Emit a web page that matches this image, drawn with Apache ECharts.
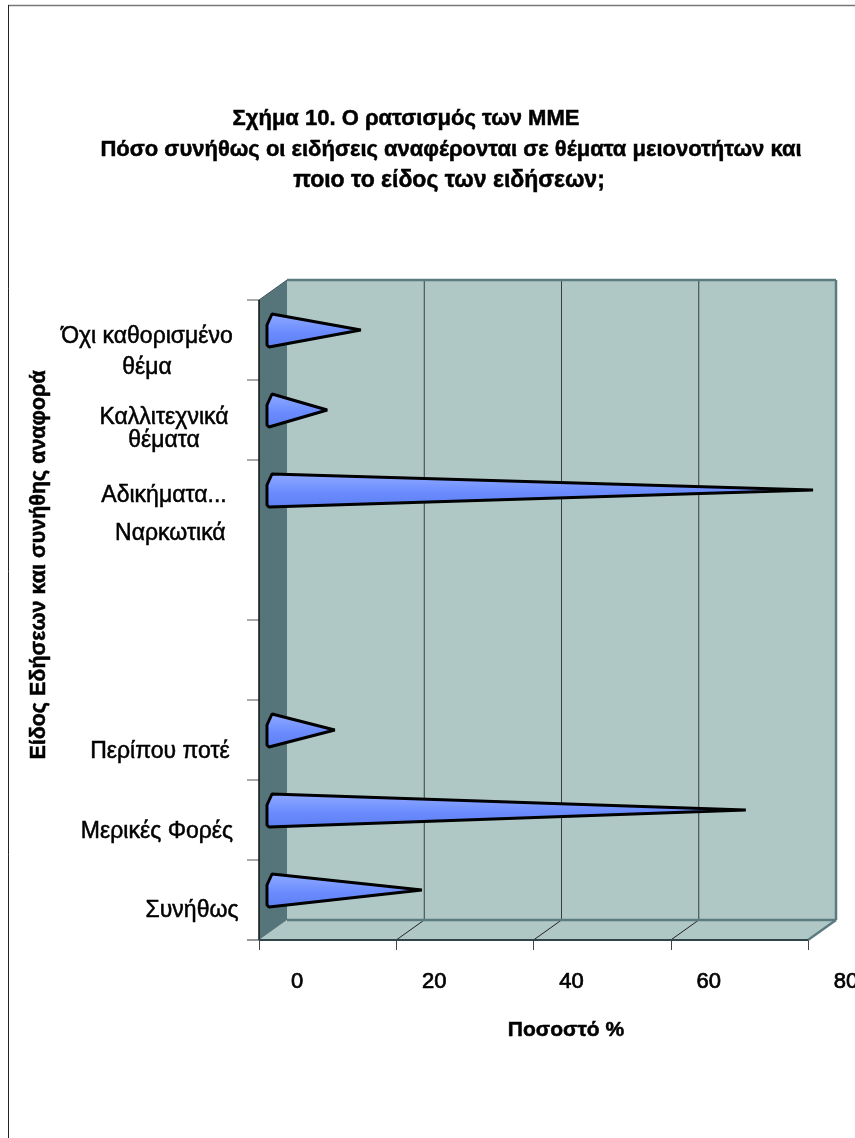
<!DOCTYPE html>
<html><head><meta charset="utf-8">
<style>html,body{margin:0;padding:0;background:#fff}#c{width:855px;height:1138px}</style>
<script src="https://cdn.jsdelivr.net/npm/echarts@6/dist/echarts.min.js"></script>
</head><body><div id="c"></div>
<script>
const categories = ['Συνήθως','Μερικές Φορές','Περίπου ποτέ','','','Αδικήματα...\n\u00A0\u00A0Ναρκωτικά','Καλλιτεχνικά\nθέματα','Όχι καθορισμένο\nθέμα'];
const values = [21.7, 68.9, 9, 0, 0, 78.7, 7.9, 12.8];
const valueTicks = [0, 20, 40, 60, 80];
const titleLines = ['Σχήμα 10. Ο ρατσισμός των ΜΜΕ','Πόσο συνήθως οι ειδήσεις αναφέρονται σε θέματα μειονοτήτων και','ποιο το είδος των ειδήσεων;'];
const xName = 'Ποσοστό %';
const yName = 'Είδος Εδήσεων και συνήθης αναφορά';
const skippedBoundary = 5;

const FONT = '"Liberation Sans", Arial, sans-serif';
const LBL = {align:'center', verticalAlign:'top'};
const labelTweaks = [
  {...LBL, lineHeight:26, padding:[-2,0,0,66]},
  {...LBL, lineHeight:26, padding:[-1,4,0,0]},
  {...LBL, lineHeight:26, padding:[-1,0,0,2]},
  {...LBL},
  {...LBL},
  {...LBL, lineHeight:38, padding:[-23,0,0,10]},
  {...LBL, lineHeight:23, padding:[-13.5,0,0,10]},
  {...LBL, lineHeight:31, padding:[-18.5,24,0,0]}
];
const DX = 28, DY = -20;
const WALL = '#56757a', BACK = '#b0c8c5', EDGE = '#5b7b80';

function renderFrame(params, api) {
  const n = categories.length;
  const band = api.size([0, 1])[1];
  const bottom = api.coord([0, 0])[1] + band / 2;
  const top = api.coord([0, n - 1])[1] - band / 2;
  const xOf = v => api.coord([v, 0])[0];
  const x0 = xOf(0), x1 = xOf(80);
  const kids = [];
  const poly = (pts, fill) => kids.push({type:'polygon', shape:{points:pts}, style:{fill}});
  const line = (a, b, stroke, lw) => kids.push({type:'line', shape:{x1:a[0],y1:a[1],x2:b[0],y2:b[1]}, style:{stroke, lineWidth:lw}});
  poly([[x0+DX,top+DY],[x1+DX,top+DY],[x1+DX,bottom+DY],[x0+DX,bottom+DY]], BACK);
  poly([[x0,bottom],[x0+DX,bottom+DY],[x1+DX,bottom+DY],[x1,bottom]], BACK);
  poly([[x0,top],[x0+DX,top+DY],[x0+DX,bottom+DY],[x0,bottom]], WALL);
  valueTicks.slice(1, -1).forEach(v => {
    const x = xOf(v);
    line([x+DX,top+DY],[x+DX,bottom+DY],'#333f41',1);
    line([x,bottom],[x+DX,bottom+DY],'#222',1);
  });
  line([x0+DX,top+DY],[x1+DX,top+DY],EDGE,2.5);
  line([x1+DX,top+DY],[x1+DX,bottom+DY],EDGE,2.5);
  line([x0+DX,bottom+DY],[x1+DX,bottom+DY],EDGE,2.5);
  line([x1+DX,bottom+DY],[x1,bottom],EDGE,2.5);
  line([x0,top],[x0+DX,top+DY],'#44585c',1);
  for (let i = 0; i <= n; i++) {
    if (i === skippedBoundary) continue;
    const y = bottom - i * band;
    line([x0-12,y],[x0,y], i === 0 ? '#333' : '#555', 1);
  }
  line([x0,top],[x0,bottom],'#111',1.5);
  line([x0,bottom],[x1,bottom],'#2f4548',2);
  return {type:'group', children:kids};
}

function renderCone(params, api) {
  const v = api.value(0);
  if (!v) return null;
  const cat = api.value(1);
  const c0 = api.coord([0, cat]);
  const c1 = api.coord([v, cat]);
  const bx = c0[0] + DX / 2, cy = c0[1] + DY / 2;
  const tx = c1[0] + DX / 2;
  const pts = [[bx-1,cy-16],[bx-6,cy-5],[bx-6,cy+15],[bx-4,cy+17],[tx,cy]];
  return {type:'polygon', shape:{points:pts}, style:{
    fill:{type:'linear',x:0,y:0,x2:0,y2:1,colorStops:[{offset:0,color:'#93abff'},{offset:0.55,color:'#6a8cff'},{offset:1,color:'#5c7df0'}]},
    stroke:'#000', lineWidth:3, lineJoin:'bevel'
  }};
}

const chart = echarts.init(document.getElementById('c'), null, {renderer:'canvas'});
const titleStyle = {fontFamily:FONT, fontSize:22, fontWeight:'bold', color:'#000', textBorderColor:'#000', textBorderWidth:0.5};
chart.setOption({
  animation:false,
  backgroundColor:'#fff',
  title:[
    {text:titleLines[0], left:406, top:108, textAlign:'center', textStyle:titleStyle, padding:0},
    {text:titleLines[1], left:451, top:139, textAlign:'center', textStyle:titleStyle, padding:0},
    {text:titleLines[2], left:449, top:169, textAlign:'center', textStyle:{...titleStyle, fontSize:23}, padding:0}
  ],
  grid:{left:259, top:300, width:549, height:640, containLabel:false, outerBoundsMode:'none'},
  xAxis:{
    type:'value', min:0, max:80, interval:20,
    splitLine:{show:false},
    axisLine:{show:false},
    axisTick:{show:true, length:10, lineStyle:{color:'#444', width:1}},
    axisLabel:{margin:31, fontFamily:FONT, fontSize:22, color:'#000', fontWeight:'normal', align:'center', padding:[0,0,0,76], textBorderColor:'#000', textBorderWidth:0.7, showMinLabel:true, showMaxLabel:true, hideOverlap:false},
    name:xName, nameLocation:'middle', nameGap:80,
    nameTextStyle:{fontFamily:FONT, fontSize:21, fontWeight:'bold', color:'#000', padding:[0,0,0,65], textBorderColor:'#000', textBorderWidth:0.5}
  },
  yAxis:{
    type:'category', data:categories.map((c,i)=>({value:c, textStyle:labelTweaks[i]})),
    axisLine:{show:false}, axisTick:{show:false}, splitLine:{show:false},
    axisLabel:{interval:0, margin:100, fontFamily:FONT, fontSize:23, color:'#000', textBorderColor:'#000', textBorderWidth:0.5, hideOverlap:false},
    name:yName, nameLocation:'middle', nameGap:175, nameRotate:90,
    nameTextStyle:{fontFamily:FONT, fontSize:21.5, fontWeight:'bold', color:'#000', padding:[0,0,0,110], textBorderColor:'#000', textBorderWidth:0.5}
  },
  series:[
    {type:'custom', renderItem:renderFrame, data:[[0,0]], clip:false, silent:true, z:1, encode:{x:0,y:1}},
    {type:'custom', renderItem:renderCone, data:values.map((v,i)=>[v,i]), clip:false, z:3, encode:{x:0,y:1}}
  ],
  graphic:[
    {type:'line', shape:{x1:8,y1:5.5,x2:855,y2:5.5}, style:{stroke:'#777',lineWidth:1.5}, z:10},
    {type:'line', shape:{x1:8.5,y1:5,x2:8.5,y2:1138}, style:{stroke:'#222',lineWidth:1}, z:10}
  ]
});
</script></body></html>
